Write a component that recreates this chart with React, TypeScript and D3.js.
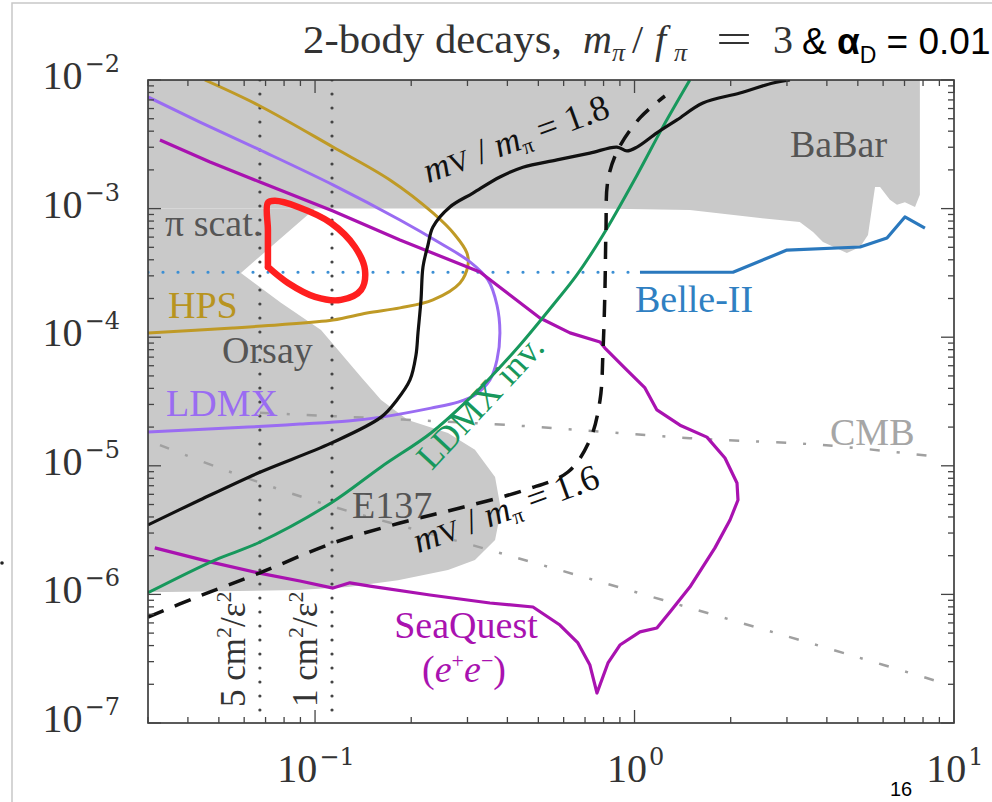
import React from 'react';
import * as d3 from 'd3';

type P = [number, number];

const xDomain: [number, number] = [0.03, 10];
const yDomain: [number, number] = [1e-7, 1e-2];
const xTickValues = [0.1, 1, 10];
const xTickExponents = ['−1', '0', '1'];
const yTickValues = [1e-2, 1e-3, 1e-4, 1e-5, 1e-6, 1e-7];
const yTickExponents = ['−2', '−3', '−4', '−5', '−6', '−7'];

// shaded excluded regions (m_V in GeV, epsilon)
const babarRegion: P[] = [
  [0.03, 1e-2], [7.82, 1e-2], [7.82, 1.28e-3], [7.55, 1.03e-3], [7.02, 1.12e-3], [6.63, 1.07e-3],
  [6.3, 1.17e-3], [5.87, 1.47e-3], [5.66, 1.47e-3], [5.38, 6.24e-4], [5.08, 5.03e-4], [4.62, 4.52e-4],
  [3.89, 5.5e-4], [3.62, 6.58e-4], [3.29, 7.87e-4], [2.47, 8.45e-4], [1.49, 9.75e-4], [0.78, 1.0e-3], [0.03, 1.0e-3],
];
const lowRegion: P[] = [
  [0.03, 1e-3], [0.1, 1e-3], [0.0586, 3.16e-4], [0.0782, 1.85e-4], [0.1044, 1.14e-4], [0.1393, 4.91e-5],
  [0.161, 3.25e-5], [0.1954, 2.27e-5], [0.2607, 1.8e-5], [0.3166, 1.33e-5], [0.366, 8.18e-6], [0.382, 4.53e-6],
  [0.366, 2.65e-6], [0.3166, 1.85e-6], [0.2607, 1.55e-6], [0.1818, 1.29e-6], [0.1268, 1.14e-6], [0.0885, 1.08e-6],
  [0.03, 1.04e-6],
];

const hpsCurve: P[] = [
  [0.0452, 1e-2], [0.0672, 6.28e-3], [0.1138, 3.01e-3], [0.1716, 1.67e-3], [0.2339, 9.25e-4], [0.2742, 6.24e-4],
  [0.2988, 4.52e-4], [0.3011, 3.64e-4], [0.2842, 2.64e-4], [0.2339, 1.95e-4], [0.1844, 1.69e-4], [0.1454, 1.54e-4],
  [0.1138, 1.36e-4], [0.0776, 1.25e-4], [0.0553, 1.18e-4], [0.03, 1.08e-4],
];
const ldmxCurve: P[] = [
  [0.03, 7.38e-3], [0.0436, 4.71e-3], [0.0672, 2.86e-3], [0.1138, 1.53e-3], [0.1844, 8.15e-4], [0.246, 5.4e-4],
  [0.3054, 3.85e-4], [0.3478, 2.79e-4], [0.371, 1.78e-4], [0.379, 1.08e-4], [0.371, 6.65e-5], [0.3527, 4.65e-5],
  [0.3166, 3.56e-5], [0.2801, 3.13e-5], [0.2306, 2.81e-5], [0.161, 2.39e-5], [0.1268, 2.23e-5], [0.0897, 2.11e-5],
  [0.0617, 2.0e-5], [0.03, 1.83e-5],
];
const seaquestCurve: P[] = [
  [0.0327, 3.41e-3], [0.0469, 2.3e-3], [0.0672, 1.61e-3], [0.1138, 9.57e-4], [0.1844, 5.7e-4], [0.246, 4.28e-4],
  [0.3282, 3.21e-4], [0.4074, 2.13e-4], [0.5058, 1.41e-4], [0.628, 1.08e-4], [0.78, 9.19e-5], [0.808, 8.24e-5],
  [0.933, 5.75e-5], [1.078, 4.03e-5], [1.175, 2.72e-5], [1.388, 2.07e-5], [1.685, 1.67e-5], [1.919, 1.15e-5],
  [2.093, 7.35e-6], [2.108, 5.42e-6], [1.99, 3.79e-6], [1.785, 2.3e-6], [1.49, 1.14e-6], [1.291, 7.3e-7],
  [1.175, 5.48e-7], [1.04, 5.11e-7], [0.9, 4.04e-7], [0.826, 2.93e-7], [0.763, 1.71e-7], [0.725, 2.82e-7],
  [0.665, 4.19e-7], [0.584, 5.78e-7], [0.481, 7.98e-7], [0.3527, 8.57e-7], [0.229, 9.89e-7], [0.1485, 1.16e-6],
  [0.1286, 1.23e-6], [0.1138, 1.12e-6], [0.0897, 1.27e-6], [0.0663, 1.47e-6], [0.0469, 1.79e-6], [0.0315, 2.3e-6],
];
const ldmxInvCurve: P[] = [
  [0.03, 1.03e-6], [0.0486, 1.85e-6], [0.0663, 2.51e-6], [0.1122, 5.14e-6], [0.161, 9.8e-6], [0.2306, 1.8e-5],
  [0.3011, 3.25e-5], [0.3527, 4.82e-5], [0.438, 8.69e-5], [0.556, 1.78e-4], [0.66, 3.05e-4], [0.797, 6.24e-4],
  [1.018, 1.82e-3], [1.227, 4.32e-3], [1.49, 1e-2],
];
const ratio18Curve: P[] = [
  [0.03, 3.47e-6], [0.0436, 5.42e-6], [0.0663, 8.79e-6], [0.1122, 1.5e-5], [0.161, 2.39e-5], [0.1805, 3.25e-5],
  [0.1982, 4.65e-5], [0.207, 7.28e-5], [0.21, 1.08e-4], [0.2146, 1.95e-4], [0.2177, 3.52e-4], [0.2257, 5.21e-4],
  [0.2339, 7.19e-4], [0.2644, 1.03e-3], [0.312, 1.32e-3], [0.379, 1.76e-3], [0.4474, 2.1e-3], [0.572, 2.39e-3],
  [0.725, 2.7e-3], [0.881, 3.01e-3], [0.947, 2.81e-3], [1.018, 3.01e-3], [1.175, 3.88e-3], [1.358, 4.89e-3],
  [1.637, 6.62e-3], [2.138, 7.92e-3], [2.713, 9.48e-3], [3.065, 1e-2],
];
const ratio16Curve: P[] = [
  [0.03, 6.67e-7], [0.0436, 9.73e-7], [0.0672, 1.47e-6], [0.1138, 2.51e-6], [0.1844, 3.59e-6], [0.2842, 4.7e-6],
  [0.4541, 6.49e-6], [0.619, 8.95e-6], [0.725, 1.59e-5], [0.78, 3.25e-5], [0.797, 7.94e-5], [0.808, 2.33e-4],
  [0.814, 6.82e-4], [0.826, 1.67e-3], [0.887, 2.86e-3], [1.04, 5.07e-3], [1.245, 7.51e-3],
];
const belleIIDotted: P[] = [[0.03, 3.2e-4], [1.04, 3.2e-4]];
const belleIICurve: P[] = [
  [1.04, 3.2e-4], [2.033, 3.2e-4], [3.0, 4.76e-4], [5.08, 5.03e-4], [6.17, 5.9e-4], [7.02, 8.61e-4], [8.11, 7.06e-4],
];
const cmbCurve: P[] = [[0.0672, 2.58e-5], [0.4074, 2.07e-5], [1.49, 1.64e-5], [3.89, 1.45e-5], [9.04, 1.17e-5]];
const cmbLowerCurve: P[] = [
  [0.0327, 1.45e-5], [0.0522, 9.27e-6], [0.1044, 5.14e-6], [0.3527, 2.21e-6], [1.227, 9.04e-7], [4.97, 3.26e-7], [9.04, 2.08e-7],
];
const redAnnotation: P[] = [
  [0.0712, 3.52e-4], [0.0712, 6.82e-4], [0.0712, 1.11e-3], [0.0749, 1.15e-3], [0.0885, 1.03e-3], [0.1122, 7.73e-4],
  [0.1334, 5.03e-4], [0.1433, 3.33e-4], [0.1393, 2.33e-4], [0.1206, 1.95e-4], [0.1, 2.06e-4], [0.0823, 2.64e-4],
  [0.0712, 3.52e-4],
];
const lifetimeMasses = [0.0672, 0.113];
const lifetimeLabels = ['5', '1'];

const SERIF = '"Liberation Serif", "DejaVu Serif", serif';
const SERIF_WIDE = '"DejaVu Serif", "Liberation Serif", serif';
const SANS = '"Liberation Sans", Arial, sans-serif';

export default function App() {
  const L = 148, R = 954, T = 80, B = 723;
  const x = d3.scaleLog().domain(xDomain).range([L, R]);
  const y = d3.scaleLog().domain(yDomain).range([B, T]);
  const lin = d3.line<P>().x(d => x(d[0])).y(d => y(d[1]));
  const smooth = d3.line<P>().x(d => x(d[0])).y(d => y(d[1])).curve(d3.curveCatmullRom.alpha(0.5));

  const xMinor: number[] = [];
  for (let e = -2; e <= 1; e++) for (let k = 1; k <= 9; k++) {
    const v = k * Math.pow(10, e);
    if (v >= xDomain[0] * 0.999 && v <= xDomain[1] * 1.001) xMinor.push(v);
  }
  const yMinor: number[] = [];
  for (let e = -7; e <= -2; e++) for (let k = 1; k <= 9; k++) {
    const v = k * Math.pow(10, e);
    if (v >= yDomain[0] * 0.999 && v <= yDomain[1] * 1.001) yMinor.push(v);
  }
  const isMajor = (v: number) => Math.abs(Math.log10(v) - Math.round(Math.log10(v))) < 1e-6;

  const ratioLabel = (val: string) => (
    <>
      <tspan fontStyle="italic">m</tspan>
      <tspan fontSize="0.8em">V</tspan>
      <tspan> / </tspan>
      <tspan fontStyle="italic">m</tspan>
      <tspan fontSize="0.6em" dy="6">π</tspan>
      <tspan dy="-6"> = {val}</tspan>
    </>
  );

  const power = (exp: string) => (
    <>
      <tspan fontFamily={SERIF} fontSize={40}>10</tspan>
      <tspan fontFamily={SERIF_WIDE} fontSize={24} dx={2} dy={-17}>{exp}</tspan>
    </>
  );

  return (
    <svg width={992} height={802} style={{ position: 'absolute', left: 0, top: 0, background: '#fff' }}>
      <defs>
        <clipPath id="plotclip"><rect x={L} y={T} width={R - L} height={B - T} /></clipPath>
      </defs>
      <path d="M12,802 L12,3 L992,3" fill="none" stroke="#c8c8c8" strokeWidth={1.5} />
      <circle cx={2} cy={563} r={1.8} fill="#222" />

      <g clipPath="url(#plotclip)">
        <path d={lin(babarRegion) + 'Z'} fill="#c9c9c9" />
        <path d={lin(lowRegion) + 'Z'} fill="#c9c9c9" />

        <path d={smooth(cmbCurve) || ''} fill="none" stroke="#a0a0a0" strokeWidth={2.5} strokeDasharray="10 17 3 17" />
        <path d={smooth(cmbLowerCurve) || ''} fill="none" stroke="#a0a0a0" strokeWidth={2.5} strokeDasharray="10 17 3 17" />

        {lifetimeMasses.map((m, i) => (
          <line key={i} x1={x(m)} x2={x(m)} y1={T} y2={B} stroke="#444" strokeWidth={3.2}
            strokeDasharray="0 14" strokeLinecap="round" />
        ))}

        <path d={lin(belleIIDotted) || ''} fill="none" stroke="#3c8fd4" strokeWidth={3.2} strokeDasharray="0 15" strokeLinecap="round" />
        <path d={lin(belleIICurve) || ''} fill="none" stroke="#2a78bd" strokeWidth={3.2} strokeLinejoin="round" />

        <path d={smooth(hpsCurve) || ''} fill="none" stroke="#bf9a26" strokeWidth={3} />
        <path d={smooth(ldmxCurve) || ''} fill="none" stroke="#9a6cf2" strokeWidth={3} />
        <path d={lin(seaquestCurve) || ''} fill="none" stroke="#a912b0" strokeWidth={3.2} strokeLinejoin="round" />
        <path d={smooth(ldmxInvCurve) || ''} fill="none" stroke="#17985c" strokeWidth={3} />
        <path d={smooth(ratio18Curve) || ''} fill="none" stroke="#111" strokeWidth={3.2} />
        <path d={smooth(ratio16Curve) || ''} fill="none" stroke="#111" strokeWidth={3.5} strokeDasharray="17 12" />
      </g>

      {/* frame */}
      <rect x={L} y={T} width={R - L} height={B - T} fill="none" stroke="#333" strokeWidth={1.6} />
      {xMinor.map((v, i) => {
        const len = isMajor(v) ? 13 : 6;
        return (
          <g key={'xt' + i} stroke="#444" strokeWidth={1.3}>
            <line x1={x(v)} x2={x(v)} y1={B} y2={B - len} />
            <line x1={x(v)} x2={x(v)} y1={T} y2={T + len} />
          </g>
        );
      })}
      {yMinor.map((v, i) => {
        const len = isMajor(v) ? 13 : 6;
        return (
          <g key={'yt' + i} stroke="#444" strokeWidth={1.3}>
            <line x1={L} x2={L + len} y1={y(v)} y2={y(v)} />
            <line x1={R} x2={R - len} y1={y(v)} y2={y(v)} />
          </g>
        );
      })}

      {/* tick labels */}
      {yTickValues.map((v, i) => (
        <text key={'yl' + i} x={120} y={y(v) + 9} textAnchor="end" fill="#333">
          {power(yTickExponents[i])}
        </text>
      ))}
      {xTickValues.map((v, i) => (
        <text key={'xl' + i} x={x(v) + 1} y={782} textAnchor="middle" fill="#333">
          {power(xTickExponents[i])}
        </text>
      ))}

      {/* title */}
      <g fontFamily={SERIF} fill="#333">
        <text x={303} y={53} fontSize={40} textLength={259} lengthAdjust="spacingAndGlyphs">2-body decays,</text>
        <text x={583} y={53} fontSize={40} fontStyle="italic">m</text>
        <text x={612} y={61} fontSize={26} fontStyle="italic">π</text>
        <text x={632} y={53} fontSize={40}>/</text>
        <text x={655} y={53} fontSize={40} fontStyle="italic">f</text>
        <text x={674} y={61} fontSize={26} fontStyle="italic">π</text>
        <text x={716} y={53} fontSize={40} textLength={36} lengthAdjust="spacingAndGlyphs">=</text>
        <text x={773} y={53} fontSize={40}>3</text>
      </g>
      <text x={802} y={54} fontFamily={SANS} fontSize={37} fill="#000">
        &amp; <tspan fontWeight="bold">α</tspan><tspan fontSize={23} dy={9}>D</tspan><tspan dy={-9}> = 0.01</tspan>
      </text>

      {/* region labels */}
      <g fontFamily={SERIF} fontSize={38}>
        <text x={165} y={236} fill="#555">π scat.</text>
        <text x={168} y={318} fill="#b8941f">HPS</text>
        <text x={222} y={363} fill="#555">Orsay</text>
        <text x={166} y={416} fill="#9a6cf2">LDMX</text>
        <text x={352} y={518} fill="#555">E137</text>
        <text x={790} y={157} fill="#555">BaBar</text>
        <text x={635} y={312} fill="#2f80c2">Belle-II</text>
        <text x={830} y={445} fill="#a6a6a6">CMB</text>
        <text x={466} y={638} textAnchor="middle" fill="#a912b0">SeaQuest</text>
        <text x={464} y={682} textAnchor="middle" fill="#a912b0">
          (<tspan fontStyle="italic">e</tspan><tspan fontSize={22} dy={-14}>+</tspan>
          <tspan fontStyle="italic" dy={14}>e</tspan><tspan fontSize={22} dy={-14}>−</tspan><tspan dy={14}>)</tspan>
        </text>
        <text transform="translate(489,410) rotate(-47)" textAnchor="middle" fill="#17985c" fontSize={36}>LDMX inv.</text>
        <text transform="translate(520,150) rotate(-20)" textAnchor="middle" fill="#111" fontSize={36}>{ratioLabel('1.8')}</text>
        <text transform="translate(510,520) rotate(-20)" textAnchor="middle" fill="#111" fontSize={36}>{ratioLabel('1.6')}</text>
        {lifetimeMasses.map((m, i) => (
          <text key={'lt' + i} transform={`translate(${x(m) - 15},707) rotate(-90)`} fill="#333" fontSize={35}>
            {lifetimeLabels[i]} cm<tspan fontSize={22} dy={-14}>2</tspan><tspan dy={14}>/ε</tspan>
            <tspan fontSize={22} dy={-14}>2</tspan>
          </text>
        ))}
      </g>

      {/* hand-drawn red annotation */}
      <path d={smooth(redAnnotation) || ''} fill="none" stroke="#ff1f1f" strokeWidth={6.5} strokeLinejoin="round" strokeLinecap="round" />

      <text x={890} y={796} fontFamily={SANS} fontSize={20} fill="#000">16</text>
    </svg>
  );
}
